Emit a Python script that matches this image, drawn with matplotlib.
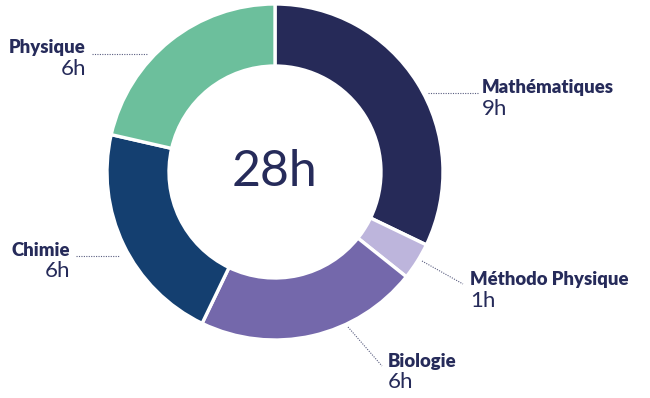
import matplotlib
matplotlib.use("Agg")
import matplotlib.pyplot as plt

subjects = ["Mathématiques", "Méthodo Physique", "Biologie", "Chimie", "Physique"]
hours = [9, 1, 6, 6, 6]
colours = ["#262a58", "#bdb5dc", "#7468ab", "#143f70", "#6cbf9c"]
total_label = "28h"

TEXT = "#262b5a"
H = 398

fig = plt.figure(figsize=(6.5, 3.98), dpi=100)
ax = fig.add_axes([0, 0, 1, 1])
ax.set_xlim(0, 650)
ax.set_ylim(0, H)
ax.axis("off")

cx, cy = 275, H - 172
ax.pie(hours, colors=colours, startangle=90, counterclock=False,
       center=(cx, cy), radius=168,
       wedgeprops=dict(width=62, edgecolor="white", linewidth=2.4))
ax.set_xlim(0, 650)
ax.set_ylim(0, H)

ax.text(cx, cy, total_label, ha="center", va="center", fontsize=36,
        color=TEXT, family="Lato")

# label placement (pixel coords, y from top): text x, name y, align, leader line
labels = {
    "Mathématiques": (482, 88, "left", [(428, 93), (478, 93)]),
    "Méthodo Physique": (470, 280, "left", [(422, 261), (463, 284)]),
    "Biologie": (388, 361, "left", [(348, 327), (382, 366)]),
    "Chimie": (70, 250, "right", [(76, 256), (120, 256)]),
    "Physique": (86, 48, "right", [(92, 54), (148, 54)]),
}

for name, h in zip(subjects, hours):
    x, y, ha, line = labels[name]
    ax.text(x, H - y, name, ha=ha, va="center", fontsize=13.3,
            fontweight="heavy", color=TEXT, family="Lato")
    ax.text(x, H - y - 21, f"{h}h", ha=ha, va="center", fontsize=16,
            color=TEXT, family="Lato")
    (x0, y0), (x1, y1) = line
    ax.plot([x0, x1], [H - y0, H - y1], linestyle=(0, (1, 1.2)),
            linewidth=0.8, color="#5a5e80")

fig.savefig("out.png", dpi=100)
